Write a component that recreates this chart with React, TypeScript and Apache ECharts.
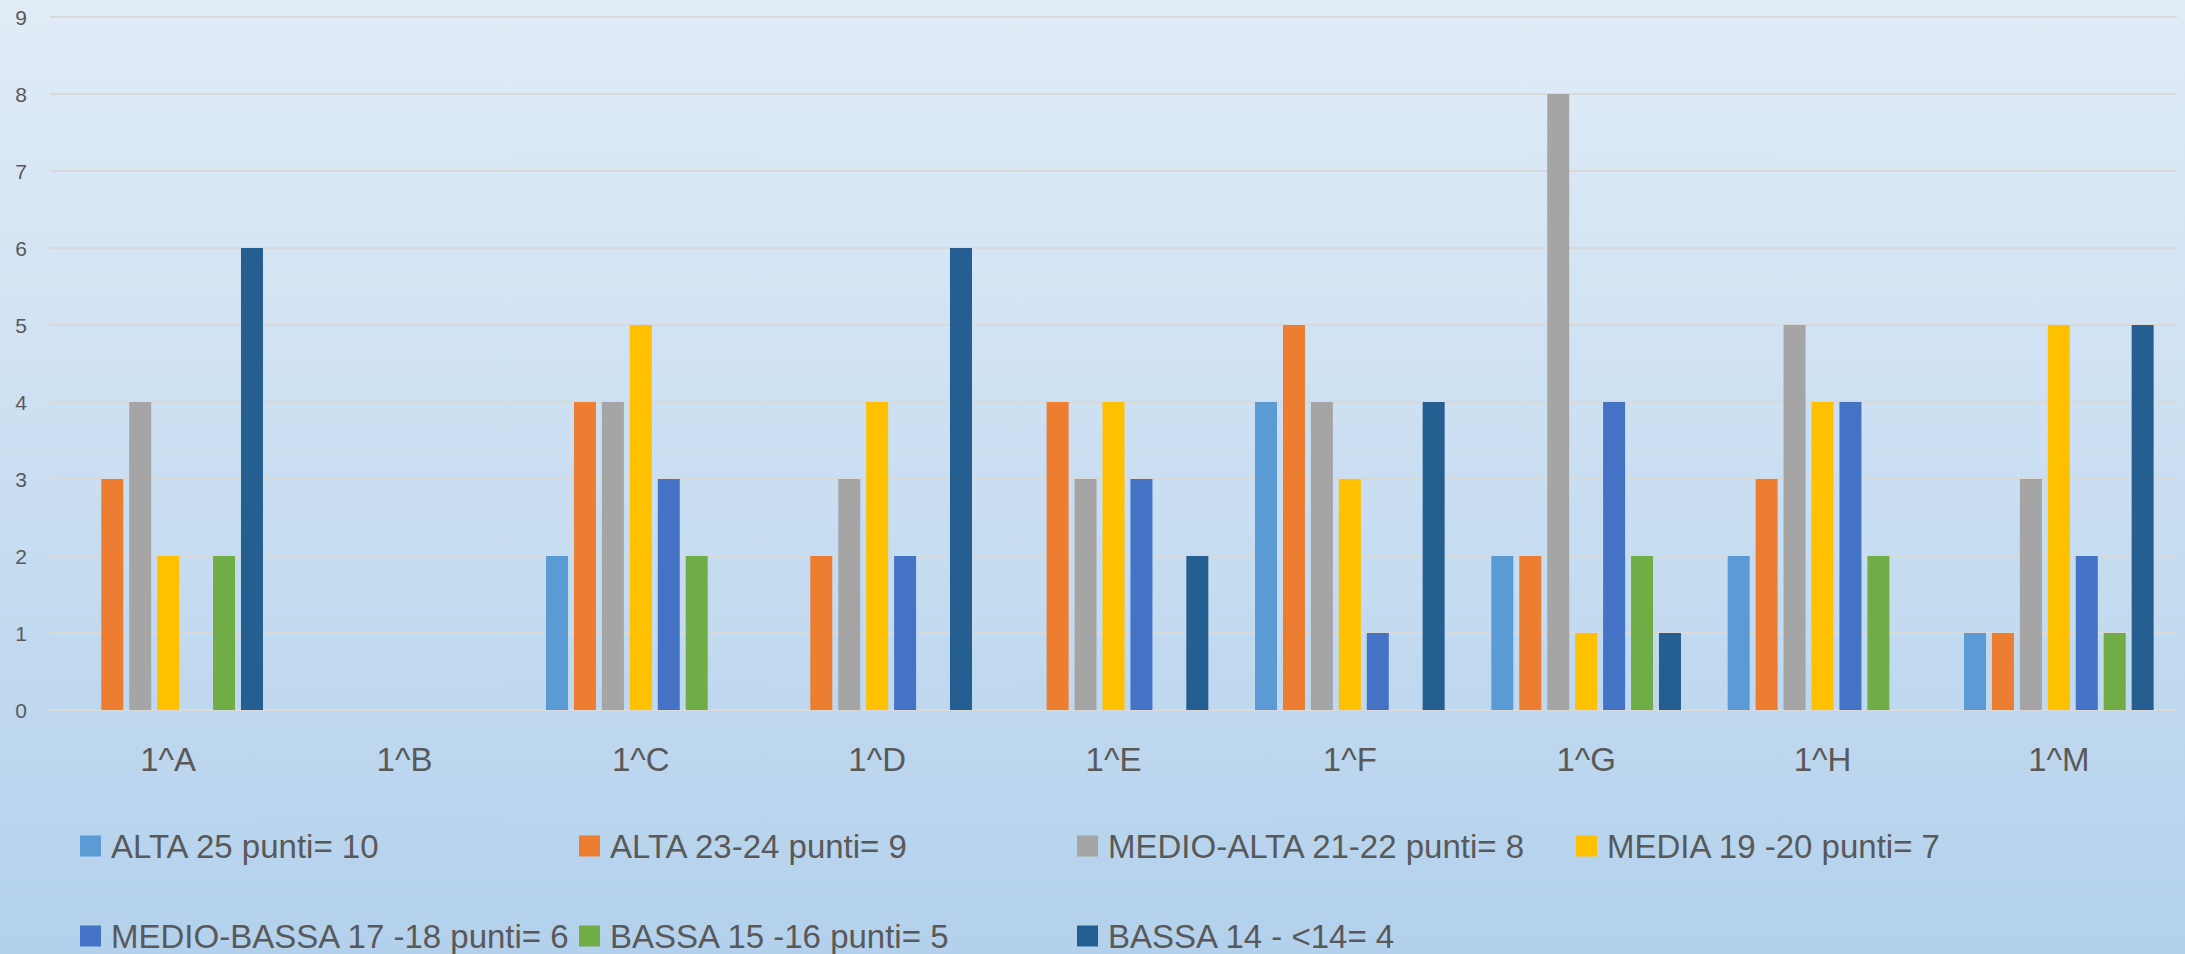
import React, { useEffect, useRef } from "react";
import * as echarts from "echarts";

const categories = ["1^A", "1^B", "1^C", "1^D", "1^E", "1^F", "1^G", "1^H", "1^M"];
const seriesNames = [
  "ALTA 25 punti= 10",
  "ALTA 23-24 punti= 9",
  "MEDIO-ALTA 21-22 punti= 8",
  "MEDIA 19 -20 punti= 7",
  "MEDIO-BASSA 17 -18 punti= 6",
  "BASSA 15 -16 punti= 5",
  "BASSA 14 - <14= 4",
];
const alta25 = [0, 0, 2, 0, 0, 4, 2, 2, 1];
const alta2324 = [3, 0, 4, 2, 4, 5, 2, 3, 1];
const medioAlta = [4, 0, 4, 3, 3, 4, 8, 5, 3];
const media = [2, 0, 5, 4, 4, 3, 1, 4, 5];
const medioBassa = [0, 0, 3, 2, 3, 1, 4, 4, 2];
const bassa1516 = [2, 0, 2, 0, 0, 0, 2, 2, 1];
const bassa14 = [6, 0, 0, 6, 2, 4, 1, 0, 5];
const seriesValues = [alta25, alta2324, medioAlta, media, medioBassa, bassa1516, bassa14];
const colors = ["#5b9bd5", "#ed7d31", "#a5a5a5", "#ffc000", "#4472c4", "#70ad47", "#255e91"];
const yTicks = { min: 0, max: 9, interval: 1 };

const legendPos = [
  { left: 80, top: 826 },
  { left: 579, top: 826 },
  { left: 1077, top: 826 },
  { left: 1576, top: 826 },
  { left: 80, top: 916 },
  { left: 579, top: 916 },
  { left: 1077, top: 916 },
];

export default function App() {
  const ref = useRef<HTMLDivElement>(null);
  useEffect(() => {
    if (!ref.current) return;
    const chart = echarts.init(ref.current, null, { renderer: "svg" });
    const font = "'Liberation Sans', Arial, sans-serif";
    chart.setOption({
      animation: false,
      backgroundColor: new echarts.graphic.LinearGradient(0, 0, 0, 1, [
        { offset: 0, color: "#e1ecf7" },
        { offset: 1, color: "#b3d1ec" },
      ]),
      textStyle: { fontFamily: font },
      grid: { left: 50, right: 8, top: 17, bottom: 244, containLabel: false },
      legend: seriesNames.map((n, i) => ({
        data: [n],
        left: legendPos[i].left,
        top: legendPos[i].top,
        padding: 0,
        itemWidth: 21,
        itemHeight: 21,
        itemGap: 11,
        icon: "rect",
        selectedMode: false,
        textStyle: { color: "#595959", fontSize: 33, fontFamily: font, lineHeight: 40, padding: [0, 0, 0, 5] },
      })),
      xAxis: {
        type: "category",
        data: categories,
        axisLine: { show: true, lineStyle: { color: "#d9d9d9", width: 2 } },
        axisTick: { show: false },
        axisLabel: { color: "#595959", fontSize: 33, fontFamily: font, margin: 33 },
      },
      yAxis: {
        type: "value",
        min: yTicks.min,
        max: yTicks.max,
        interval: yTicks.interval,
        axisLine: { show: false },
        axisTick: { show: false },
        splitLine: { lineStyle: { color: "#d9d9d9", width: 2 } },
        axisLabel: { color: "#595959", fontSize: 21, fontFamily: font, margin: 23 },
      },
      series: seriesNames.map((n, i) => ({
        name: n,
        type: "bar",
        data: seriesValues[i],
        barWidth: 22,
        barGap: "27%",
        barCategoryGap: "20%",
        itemStyle: { color: colors[i] },
      })),
    });
    return () => chart.dispose();
  }, []);
  return (
    <div
      ref={ref}
      style={{ position: "fixed", left: 0, top: 0, width: 2185, height: 954 }}
    />
  );
}
